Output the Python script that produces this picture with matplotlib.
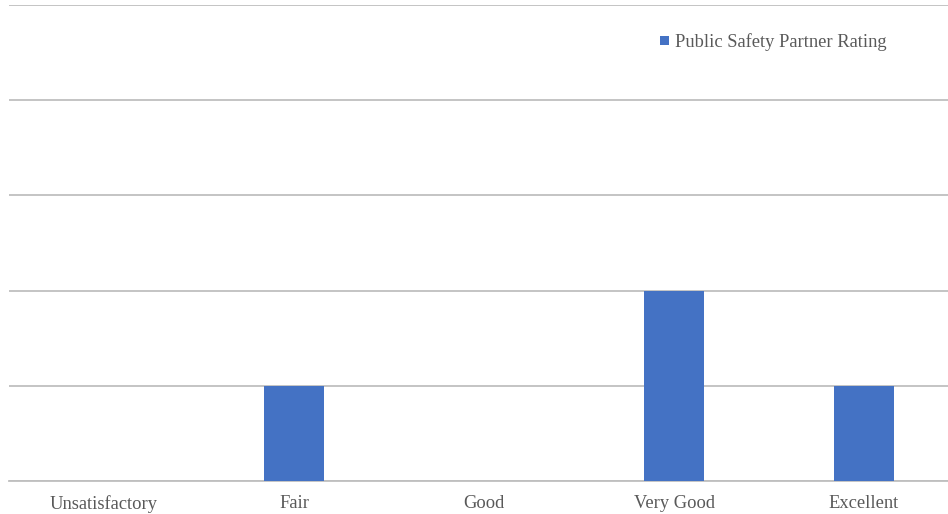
import matplotlib
matplotlib.use("Agg")
import matplotlib.pyplot as plt
from matplotlib.patches import Patch

categories = ["Unsatisfactory", "Fair", "Good", "Very Good", "Excellent"]
ratings = [0, 1, 0, 2, 1]
series_name = "Public Safety Partner Rating"

BAR_COLOR = "#4472C4"
GRID_COLOR = "#BFBFBF"
TEXT_COLOR = "#595959"

plt.rcParams["font.family"] = ["Liberation Serif", "DejaVu Serif"]

fig = plt.figure(figsize=(9.48, 5.14), dpi=100)
ax = fig.add_axes([9 / 948, 33 / 514, 939 / 948, 476 / 514])

x = list(range(len(categories)))
ax.bar(x, ratings, width=0.316, color=BAR_COLOR, zorder=3)

ax.set_xlim(-0.5, -0.5 + 939 / 190)
ax.set_ylim(0, 5)
ax.set_yticks([0, 1, 2, 3, 4, 5])
ax.set_yticklabels([])
ax.tick_params(axis="y", length=0)
ax.grid(axis="y", color=GRID_COLOR, linewidth=1.3, zorder=0)
ax.set_axisbelow(True)

ax.set_xticks(x)
ax.set_xticklabels(categories, fontsize=13.3, color=TEXT_COLOR)
ax.tick_params(axis="x", length=0, pad=10)

for side in ["top", "right", "left"]:
    ax.spines[side].set_visible(False)
ax.spines["bottom"].set_color(GRID_COLOR)
ax.spines["bottom"].set_linewidth(1.3)

handle = Patch(facecolor=BAR_COLOR, edgecolor="none")
leg = ax.legend([handle], [series_name], loc="upper right",
                bbox_to_anchor=(896 / 948, 1 - 24 / 514), bbox_transform=fig.transFigure,
                frameon=False, fontsize=13.3, handlelength=0.45, handleheight=0.45,
                handletextpad=0.35, borderpad=0, labelcolor=TEXT_COLOR)

fig.savefig("out.png", dpi=100, facecolor="white")
